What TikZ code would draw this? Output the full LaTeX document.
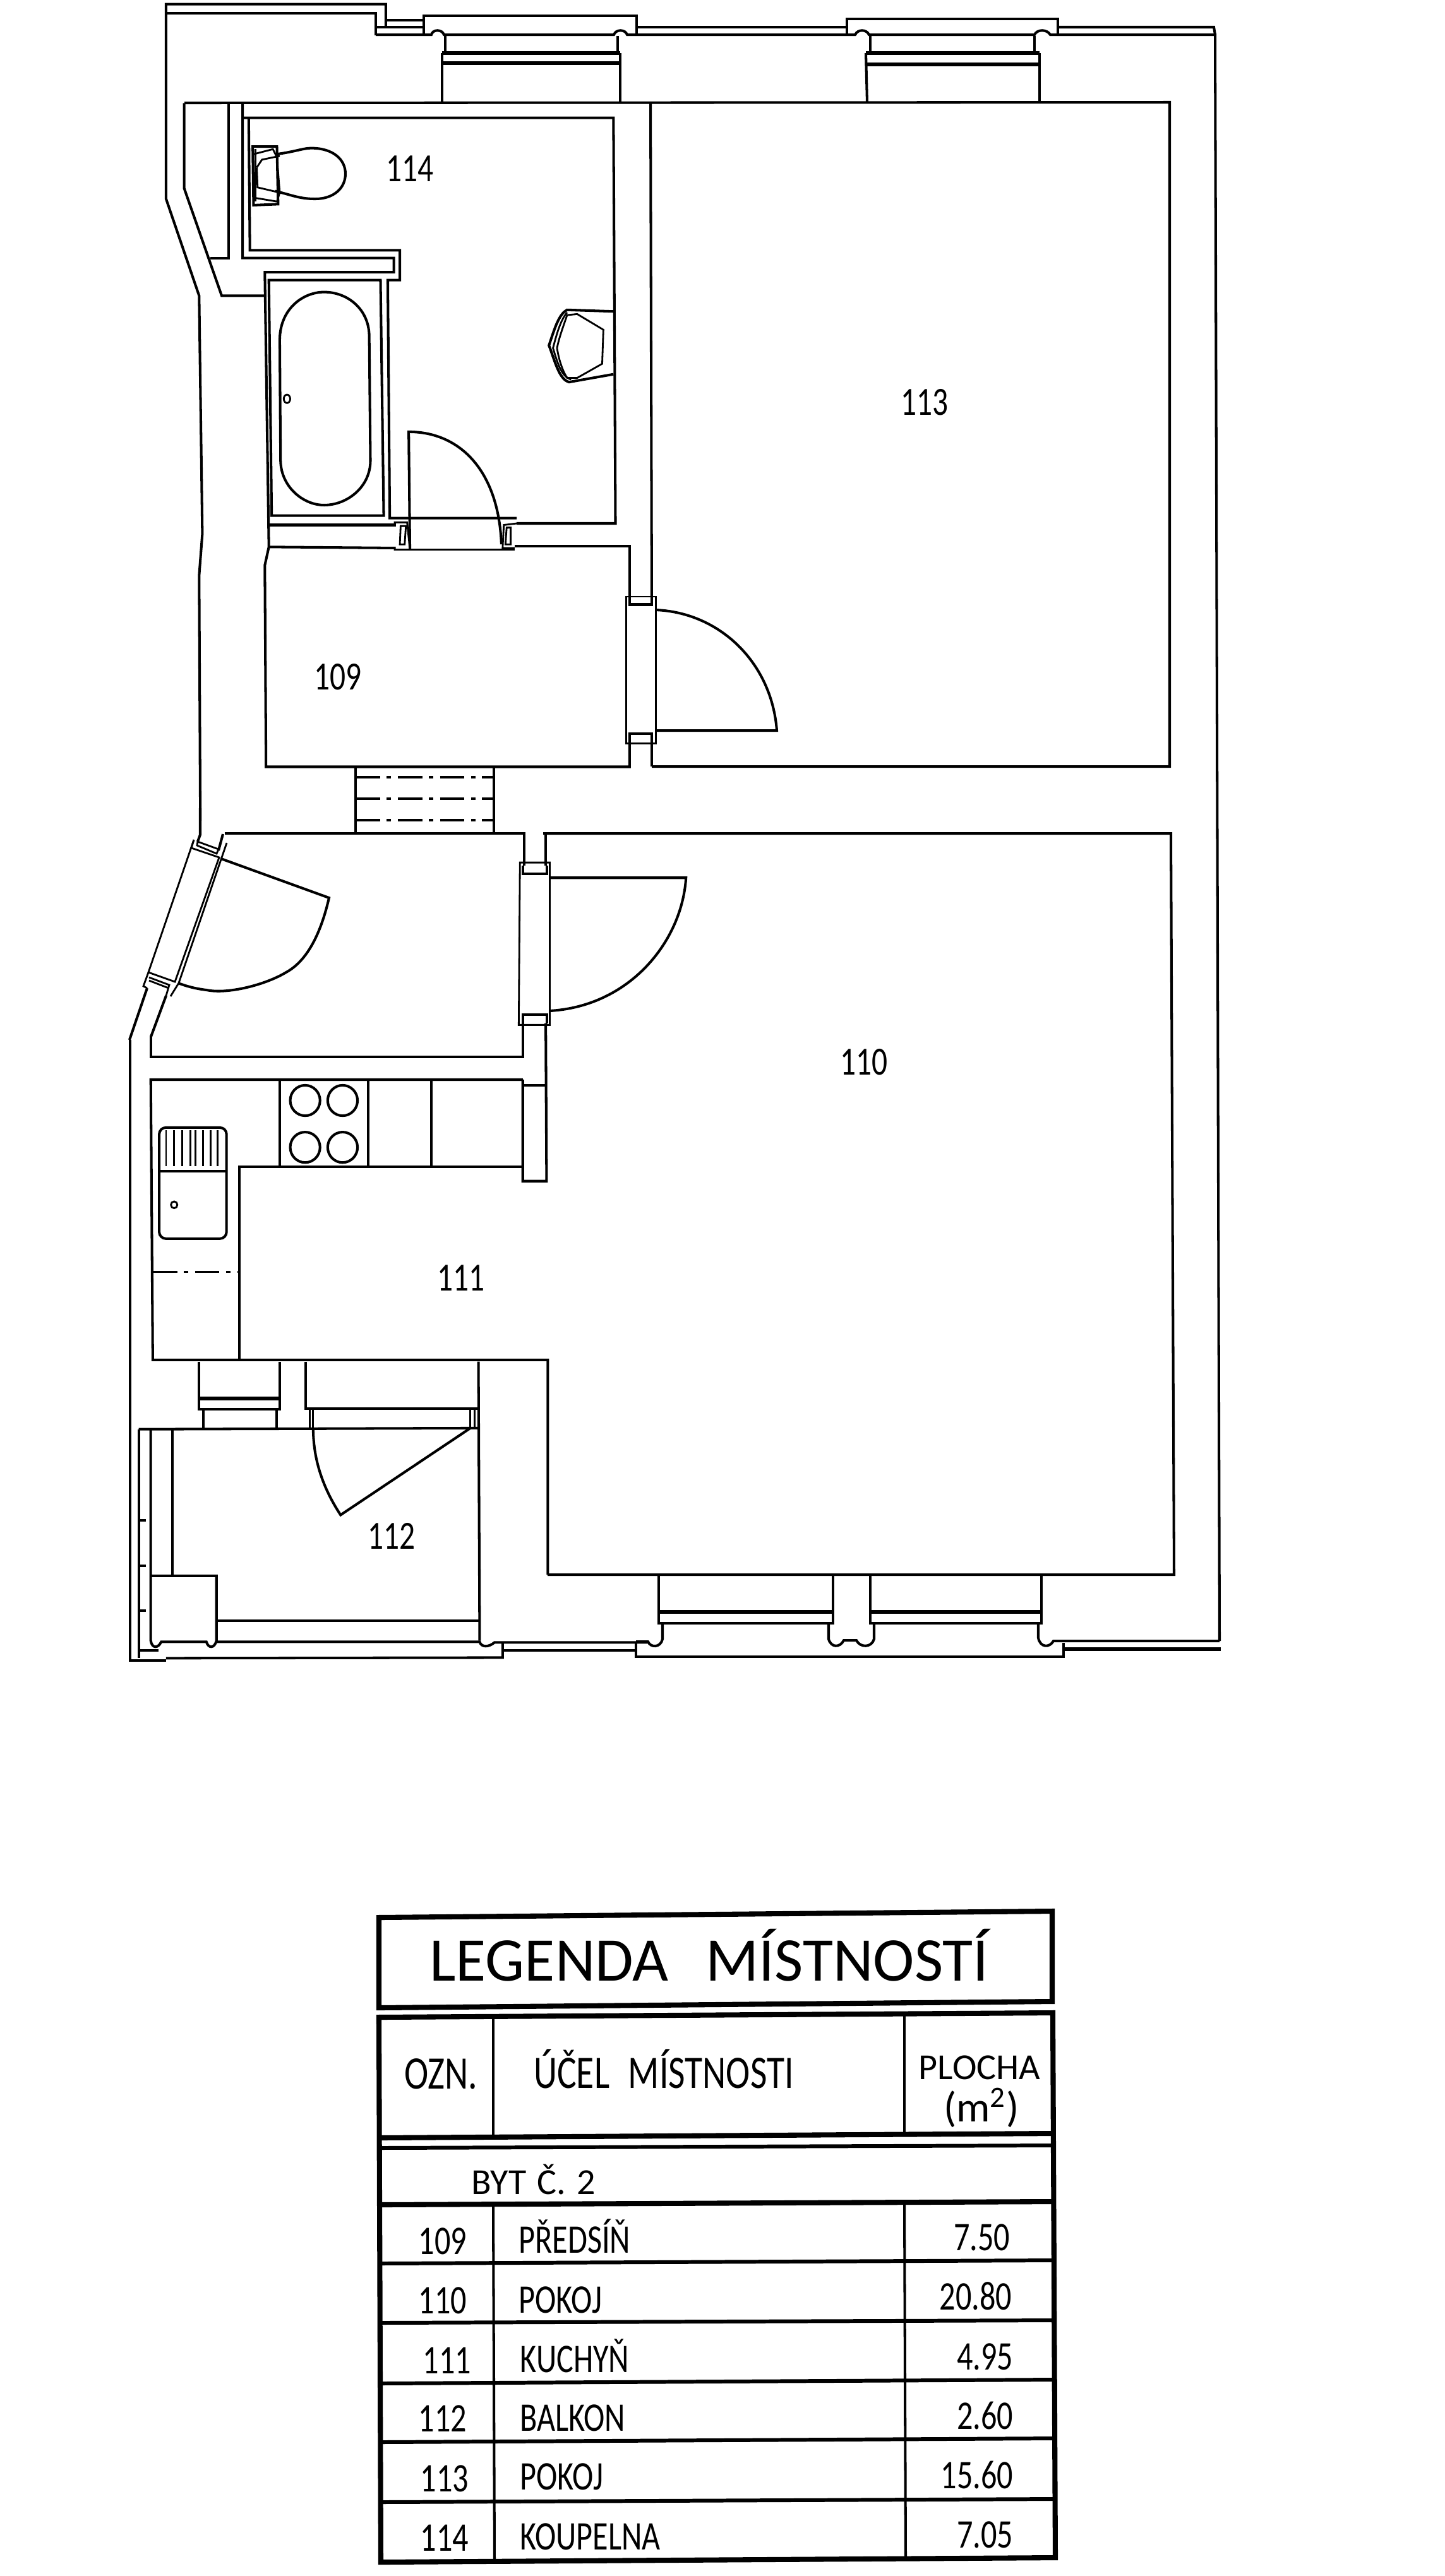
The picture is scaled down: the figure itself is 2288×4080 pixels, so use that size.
\documentclass[tikz,border=0pt]{standalone}
\usepackage{fontspec}
\setmainfont{Carlito}
\newfontfamily\narrowfont[FakeStretch=0.78]{Carlito}

\begin{document}
\begin{tikzpicture}[x=0.01cm,y=-0.01cm]
        % Define styles
        \tikzset{
            wall/.style={line width=1.15pt, line join=miter},
            fine/.style={line width=0.8pt},
            heavy/.style={line width=2.3pt},
            frameline/.style={line width=1.7pt},
            dashline/.style={line width=0.9pt, dash pattern=on 11pt off 3pt on 2pt off 3pt},
            roomlabel/.style={font=\narrowfont\fontsize{18}{20}\selectfont},
            headcell/.style={font=\fontsize{16.5}{18}\selectfont, inner sep=0pt, anchor=base},
            cell/.style={font=\narrowfont\fontsize{18.3}{20}\selectfont, inner sep=0pt},
            upperplan/.style={shift={(180,0)}, x=0.00638cm, y=-0.00829cm},
            lowerplan/.style={shift={(180,1250)}, x=0.00638cm, y=-0.00893cm}
        }
        \useasboundingbox (0,0) rectangle (2288,4080);
        % Upper left part, bathroom and hall
        \begin{scope}[upperplan]
            % Outer wall and chimney
            \draw[wall] (675,50) -- (675,8) -- (130,8) -- (130,380) -- (212,565) -- (220,1020) -- (212,1100) -- (215,1568);
            \draw[wall] (130,25) -- (650,25) -- (650,68);
            \draw[wall] (175,197) -- (175,360) -- (268,565) -- (375,565);
            \draw[wall] (285,197) -- (285,493) -- (240,493);
            \draw[wall] (320,197) -- (320,493) -- (695,493) -- (695,520) -- (375,520) -- (385,1045) -- (375,1080) -- (378,1465) -- (1280,1465) -- (1280,1400);
            % Bathroom outline
            \draw[wall] (322,225) -- (1240,225) -- (1245,1000) -- (1000,1000);
            \draw[wall] (335,225) -- (338,478) -- (710,478) -- (710,535) -- (680,535) -- (685,990) -- (1000,990);
            \draw[wall] (385,1003) -- (700,1003);
            \draw[wall] (385,1045) -- (700,1047);
            \draw[wall] (995,1043) -- (1280,1043) -- (1280,1140);
            % Bathroom door
            \draw[fine] (695,998) -- (728,998) -- (735,1050) -- (695,1050);
            \draw[fine] (712,1005) -- (725,1005) -- (722,1040) -- (710,1040) -- cycle;
            \draw[fine] (695,1050) -- (995,1050);
            \draw[fine] (1000,1000) -- (968,1003) -- (965,1047) -- (995,1047);
            \draw[fine] (975,1008) -- (985,1008) -- (985,1040) -- (972,1040) -- cycle;
            \draw[wall] (735,1050) -- (732,825) .. controls (860,825) and (955,900) .. (962,1040);
            % Bath
            \draw[wall] (385,535) -- (662,535) -- (670,985) -- (392,985) -- cycle;
            \draw[wall] (412,650) .. controls (412,590) and (470,558) .. (522,558) .. controls (580,558) and (632,590) .. (634,640) -- (637,880) .. controls (637,930) and (580,965) .. (522,965) .. controls (470,965) and (415,930) .. (414,880) -- cycle;
            \draw[fine] (430,762) ellipse [x radius=8, y radius=8];
            % Toilet
            \draw[wall] (345,280) -- (405,280) -- (408,390) -- (347,392) -- cycle;
            \draw[fine] (352,285) -- (352,385);
            \draw[fine] (355,320) -- (368,305) -- (412,298);
            \draw[fine] (355,320) -- (357,358) -- (412,368);
            \draw[fine] (345,295) -- (395,285) -- (405,300) -- (412,368) -- (405,385) -- (350,378);
            \draw[wall] (400,295) .. controls (450,290) and (470,283) .. (490,283) .. controls (545,283) and (575,305) .. (575,332) .. controls (575,360) and (545,380) .. (500,380) .. controls (460,380) and (440,372) .. (400,365);
            % Washbasin
            \draw[wall] (1240,595) -- (1125,592) .. controls (1105,600) and (1095,625) .. (1080,660) .. controls (1095,690) and (1105,725) .. (1130,730) -- (1240,715);
            \draw[fine] (1125,597) .. controls (1110,610) and (1100,635) .. (1090,665) .. controls (1100,690) and (1110,720) .. (1135,725);
            \draw[fine] (1215,630) -- (1150,600) -- (1125,602) .. controls (1115,625) and (1105,645) .. (1100,665) .. controls (1105,690) and (1115,710) .. (1125,722) -- (1150,722) -- (1212,695) -- cycle;
            % Door to room 113
            \draw[wall] (1332,197) -- (1335,1140);
            \draw[wall] (1335,1420) -- (1335,1465);
            \draw[fine] (1272,1400) -- (1272,1140) -- (1345,1140) -- (1345,1420) -- (1272,1420) -- cycle;
            \draw[wall] (1280,1140) -- (1280,1155) -- (1335,1155) -- (1335,1140);
            \draw[wall] (1280,1420) -- (1280,1402) -- (1335,1402) -- (1335,1420);
            % Room labels
            \node[roomlabel] (room114) at (735,322) {114};
            \node[roomlabel] (room109) at (557,1293) {109};
        \end{scope}
        % Lower left part, hall, kitchen and balcony
        \begin{scope}[lowerplan]
            % Hall
            \draw[wall] (275,78) -- (1018,78) -- (1018,135);
            \draw[wall] (1015,405) -- (1015,475) -- (92,475) -- (92,437);
            \draw[wall] (40,445) -- (40,1545) -- (130,1545);
            \draw[wall] (130,1541) -- (965,1540) -- (965,1515);
            % Door to room 110
            \draw[fine] (1008,130) -- (1082,130) -- (1082,418) -- (1005,418) -- cycle;
            \draw[wall] (1015,135) -- (1015,150) -- (1075,150) -- (1075,135);
            \draw[wall] (1015,415) -- (1015,400) -- (1075,400) -- (1075,415);
            \draw[wall] (1082,157) -- (1420,157) .. controls (1410,270) and (1280,385) .. (1082,393);
            % Wall between kitchen and room 110
            \draw[wall] (1072,135) -- (1072,78) -- (1568,78);
            \draw[wall] (1072,415) -- (1074,695) -- (1015,695) -- (1015,515);
            \draw[wall] (1015,525) -- (1072,525);
            % Kitchen units
            \draw[wall] (1015,515) -- (92,515) -- (97,1012) -- (1077,1012) -- (1077,1393);
            \draw[wall] (1015,670) -- (312,670) -- (312,1012);
            \draw[wall] (412,515) -- (412,670);
            \draw[wall] (632,515) -- (632,670);
            \draw[wall] (788,515) -- (788,670);
            \draw[wall] (475,552) ellipse [x radius=37, y radius=27];
            \draw[wall] (568,552) ellipse [x radius=37, y radius=27];
            \draw[wall] (475,635) ellipse [x radius=37, y radius=27];
            \draw[wall] (568,635) ellipse [x radius=37, y radius=27];
            \draw[dashline] (97,856) -- (312,856);
            % Kitchen sink
            \draw[wall, rounded corners=3pt] (113,600) rectangle (280,797);
            \draw[wall] (115,677) -- (278,677);
            \draw[fine] (130,605) -- (130,668) (150,605) -- (150,668) (170,605) -- (170,668) (190,605) -- (190,668) (203,605) -- (203,668) (222,605) -- (222,668) (240,605) -- (240,668) (258,605) -- (258,668);
            \draw[fine] (150,737) ellipse [x radius=8, y radius=6];
            % Balcony door and window
            \draw[wall] (212,1015) -- (212,1100) -- (412,1100) -- (412,1015);
            \draw[frameline] (212,1080) -- (412,1080);
            \draw[wall] (222,1100) -- (222,1133);
            \draw[wall] (405,1100) -- (405,1133);
            \draw[wall] (477,1015) -- (477,1098) -- (905,1098);
            \draw[fine] (487,1100) -- (487,1133);
            \draw[fine] (495,1100) -- (495,1133);
            \draw[fine] (885,1100) -- (885,1133);
            \draw[fine] (895,1100) -- (895,1133);
            \draw[wall] (495,1133) .. controls (495,1190) and (520,1240) .. (563,1287) -- (885,1133);
            % Balcony
            \draw[wall] (62,1135) -- (905,1133);
            \draw[wall] (905,1015) -- (908,1510);
            \draw[wall] (62,1135) -- (62,1541);
            \draw[wall] (62,1527) -- (112,1527);
            \draw[wall] (92,1135) -- (92,1510) .. controls (95,1524) and (110,1524) .. (118,1512) -- (230,1512) .. controls (235,1524) and (250,1524) .. (255,1510) -- (255,1395) -- (92,1395);
            \draw[wall] (145,1135) -- (145,1395);
            \draw[wall] (62,1297) -- (80,1297);
            \draw[wall] (62,1377) -- (80,1377);
            \draw[wall] (62,1457) -- (80,1457);
            \draw[wall] (255,1475) -- (905,1475);
            \draw[wall] (255,1512) -- (908,1512) .. controls (912,1522) and (930,1522) .. (945,1513) -- (1325,1513);
            \draw[wall] (968,1527) -- (1296,1527);
            % Room labels
            \node[roomlabel] (room111) at (862,867) {111};
            \node[roomlabel] (room112) at (690,1325) {112};
        \end{scope}
        % Entrance door
        \draw[wall] (317,1280) -- (317,1322) -- (313,1333);
        \draw[wall] (353,1321) -- (346,1347);
        \draw[fine] (307,1330) -- (235,1540);
        \draw[fine] (307,1330) -- (303,1343) -- (347,1358) -- (277,1555) -- (235,1540) -- (227,1562) -- (233,1565);
        \draw[fine] (359,1335) -- (283,1557) -- (270,1578);
        \draw[fine] (313,1333) -- (312,1339) -- (343,1352) -- (346,1345) -- cycle;
        \draw[fine] (236,1548) -- (268,1560) -- (263,1577);
        \draw[fine] (236,1553) -- (267,1565);
        \draw[wall] (233,1565) -- (205,1647);
        \draw[wall] (263,1577) -- (239,1642);
        \draw[wall] (350,1360) -- (521,1422) .. controls (510,1470) and (490,1520) .. (453,1540) .. controls (420,1560) and (360,1575) .. (327,1568) .. controls (310,1566) and (295,1562) .. (282,1557);
        % Top windows
        \draw[wall] (595,43) -- (671,43) (671,32) -- (610,32);
        \draw[wall] (671,55) -- (671,25) -- (1008,25) -- (1008,55);
        \draw[wall] (1008,43) -- (1341,43);
        \draw[wall] (1341,55) -- (1341,30) -- (1675,30) -- (1675,55);
        \draw[wall] (1675,43) -- (1922,43) -- (1924,55);
        \draw[wall] (595,55) -- (683,55) .. controls (685,46) and (700,46) .. (703,55) -- (972,55) .. controls (975,46) and (990,46) .. (993,55) -- (1354,55) .. controls (1358,46) and (1372,46) .. (1376,55) -- (1638,55) .. controls (1642,46) and (1658,46) .. (1663,55) -- (1924,55) -- (1931,2599);
        % Window 1 frame
        \draw[wall] (705,57) -- (705,82);
        \draw[wall] (978,57) -- (978,82);
        \draw[frameline] (700,84) -- (982,84);
        \draw[frameline] (700,100) -- (982,100);
        \draw[wall] (700,84) -- (700,161);
        \draw[wall] (982,84) -- (982,161);
        % Window 2 frame
        \draw[wall] (1378,57) -- (1378,82);
        \draw[wall] (1638,57) -- (1638,82);
        \draw[frameline] (1371,84) -- (1646,84);
        \draw[frameline] (1371,102) -- (1646,102);
        \draw[wall] (1371,84) -- (1373,162);
        \draw[wall] (1646,84) -- (1646,162);
        % Room 113
        \draw[wall] (292,163) -- (1852,162) -- (1852,1214) -- (1032,1214);
        \draw[wall] (1038,1157) -- (1230,1157) .. controls (1222,1050) and (1140,970) .. (1038,966);
        % Passage between hall and room 109
        \draw[wall] (563,1214) -- (563,1320);
        \draw[wall] (782,1214) -- (782,1320);
        \draw[dashline] (563,1231) -- (782,1231);
        \draw[dashline] (563,1265) -- (782,1265);
        \draw[dashline] (563,1299) -- (782,1299);
        % Room 110 and bottom windows
        \draw[wall] (860,1320) -- (1854,1320) -- (1859,2494) -- (867,2494);
        \draw[wall] (1043,2494) -- (1043,2553);
        \draw[wall] (1319,2494) -- (1319,2553);
        \draw[wall] (1378,2494) -- (1378,2553);
        \draw[wall] (1649,2494) -- (1649,2553);
        \draw[frameline] (1043,2553) -- (1319,2553);
        \draw[frameline] (1378,2553) -- (1649,2553);
        \draw[wall] (1043,2553) -- (1043,2571) -- (1319,2571) -- (1319,2553);
        \draw[wall] (1378,2553) -- (1378,2571) -- (1649,2571) -- (1649,2553);
        \draw[wall] (1049,2571) -- (1049,2596) .. controls (1046,2610) and (1030,2610) .. (1026,2600) -- (1007,2600);
        \draw[wall] (1312,2571) -- (1312,2596) .. controls (1316,2610) and (1330,2610) .. (1336,2598) -- (1356,2598) .. controls (1362,2610) and (1380,2610) .. (1384,2596) -- (1384,2571);
        \draw[wall] (1644,2571) -- (1644,2594) .. controls (1647,2610) and (1662,2610) .. (1668,2599) -- (1931,2599);
        \draw[wall] (1007,2602) -- (1007,2624) -- (1684,2624) -- (1684,2602);
        \draw[frameline] (1684,2612) -- (1933,2612);
        % Room labels
        \node[roomlabel] (room113) at (1464,637) {113};
        \node[roomlabel] (room110) at (1368,1682) {110};
        % Legend table
        \draw[heavy] (600,3037) -- (1666,3027) -- (1666,3170) -- (600,3180) -- cycle;
        \draw[heavy] (600,3195) -- (1667,3188) -- (1671,4051) -- (603,4058) -- cycle;
        \draw[heavy] (600,3386) -- (1667,3379);
        \draw[frameline] (600,3402) -- (1667,3398);
        \draw[heavy] (602,3492) -- (1668,3487);
        \draw[wall] (781,3195) -- (781,3386);
        \draw[wall] (781,3491) -- (783,4058);
        \draw[wall] (1432,3190) -- (1432,3379);
        \draw[wall] (1432,3487) -- (1434,4051);
        \draw[frameline] (602,3585) -- (1669,3580);
        \draw[frameline] (602,3679) -- (1669,3675);
        \draw[frameline] (602,3775) -- (1670,3769);
        \draw[frameline] (603,3868) -- (1670,3862);
        \draw[frameline] (603,3963) -- (1671,3958);
        % Title and heads
        \node[font=\fontsize{28}{30}\selectfont, inner sep=0pt, anchor=base] (title) at (1123,3137) {LEGENDA\hspace{0.6em}MÍSTNOSTÍ};
        \node[cell, anchor=base, font=\narrowfont\fontsize{21}{22}\selectfont] (headozn) at (698,3308) {OZN.};
        \node[cell, anchor=base, font=\narrowfont\fontsize{21}{22}\selectfont] (headname) at (1051,3307) {ÚČEL\hspace{0.4em}MÍSTNOSTI};
        \node[headcell] (headarea) at (1551,3293) {PLOCHA};
        \node[headcell, font=\fontsize{19}{20}\selectfont] (headunit) at (1554,3360) {(m\textsuperscript{2})};
        \node[headcell] (flat) at (845,3475) {BYT\hspace{0.3em}Č.\hspace{0.3em}2};
        % Rows
        \node[cell, anchor=base] (ozn109) at (701,3570) {109};
        \node[cell, anchor=base west] (name109) at (821,3568) {PŘEDSÍŇ};
        \node[cell, anchor=base east] (area109) at (1600,3564) {7.50};
        \node[cell, anchor=base] (ozn110) at (701,3664) {110};
        \node[cell, anchor=base west] (name110) at (821,3663) {POKOJ};
        \node[cell, anchor=base east] (area110) at (1603,3658) {20.80};
        \node[cell, anchor=base] (ozn111) at (708,3759) {111};
        \node[cell, anchor=base west] (name111) at (823,3757) {KUCHYŇ};
        \node[cell, anchor=base east] (area111) at (1605,3753) {4.95};
        \node[cell, anchor=base] (ozn112) at (701,3851) {112};
        \node[cell, anchor=base west] (name112) at (823,3850) {BALKON};
        \node[cell, anchor=base east] (area112) at (1605,3847) {2.60};
        \node[cell, anchor=base] (ozn113) at (704,3946) {113};
        \node[cell, anchor=base west] (name113) at (823,3943) {POKOJ};
        \node[cell, anchor=base east] (area113) at (1605,3941) {15.60};
        \node[cell, anchor=base] (ozn114) at (704,4040) {114};
        \node[cell, anchor=base west] (name114) at (823,4038) {KOUPELNA};
        \node[cell, anchor=base east] (area114) at (1605,4035) {7.05};
    \end{tikzpicture}
\end{document}
